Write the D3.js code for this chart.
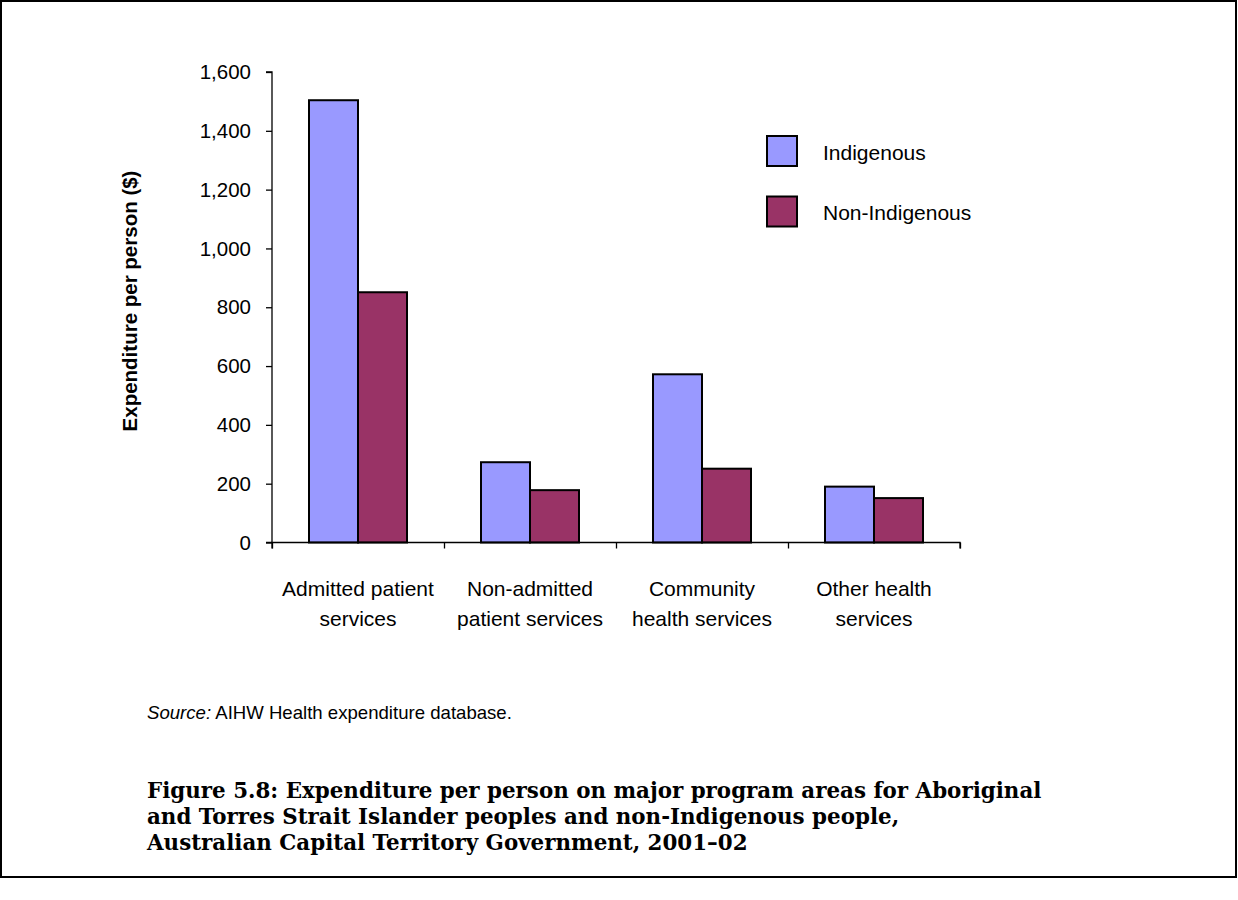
<!DOCTYPE html>
<html><head><meta charset="utf-8">
<script src="https://cdn.jsdelivr.net/npm/d3@7"></script>
<style>body{margin:0;background:#fff}svg{display:block}</style>
</head><body>
<script>
const categories = [["Admitted patient","services"],["Non-admitted","patient services"],["Community","health services"],["Other health","services"]];
const seriesNames = ["Indigenous","Non-Indigenous"];
const indigenous = [1504, 273, 572, 190];
const nonIndigenous = [851, 178, 251, 151];
const yTicks = [0,200,400,600,800,1000,1200,1400,1600];
const colors = ["#9999FF","#993366"];
const titleLines = ["Figure 5.8: Expenditure per person on major program areas for Aboriginal","and Torres Strait Islander peoples and non-Indigenous people,","Australian Capital Territory Government, 2001\u201302"];

const W=1238,H=900;
const SANS="Liberation Sans, Arial, sans-serif";
const svg=d3.select("body").append("svg").attr("width",W).attr("height",H);
svg.append("rect").attr("x",1).attr("y",1).attr("width",1235).attr("height",876).attr("fill","#fff").attr("stroke","#000").attr("stroke-width",2);

const x0=272,x1=960,yb=542.5,yt=72;
const x=d3.scaleBand().domain(d3.range(categories.length)).range([x0,x1]);
const y=d3.scaleLinear().domain([0,1600]).range([yb,yt]);
const barW=49;
const g=svg.append("g");
[indigenous,nonIndigenous].forEach((vals,si)=>{
  g.selectAll(null).data(vals).enter().append("rect")
   .attr("x",(d,i)=>x(i)+x.bandwidth()/2-barW+si*barW)
   .attr("y",d=>y(d)).attr("width",barW).attr("height",d=>yb-y(d))
   .attr("fill",colors[si]).attr("stroke","#000").attr("stroke-width",2);
});

// y axis
const ya=svg.append("g").attr("transform",`translate(${x0},0)`)
 .call(d3.axisLeft(y).tickValues(yTicks).tickSize(6).tickPadding(15).tickFormat(d3.format(",")));
ya.select(".domain").attr("stroke","#000").attr("stroke-width",1.3).attr("d",`M-6,${yt}H0V${yb}H-6`);
ya.selectAll("line").attr("stroke","#000").attr("stroke-width",1.3);
ya.selectAll("text").attr("font-family",SANS).attr("font-size",20.5).attr("fill","#000");

// x axis
const xl=d3.scaleLinear().domain([0,categories.length]).range([x0,x1]);
const xa=svg.append("g").attr("transform",`translate(0,${yb})`)
 .call(d3.axisBottom(xl).tickValues(d3.range(categories.length+1)).tickSize(6).tickFormat(""));
xa.select(".domain").attr("stroke","#000").attr("stroke-width",1.3).attr("d",`M${x0},6V0H${x1}V6`);
xa.selectAll("line").attr("stroke","#000").attr("stroke-width",1.3);

const cl=svg.append("g").attr("font-family",SANS).attr("font-size",21).attr("fill","#000").attr("text-anchor","middle");
categories.forEach((c,i)=>{
  c.forEach((t,j)=>cl.append("text").attr("x",x(i)+x.bandwidth()/2).attr("y",596+j*30).text(t));
});

svg.append("text").attr("transform",`translate(137,301) rotate(-90)`).attr("text-anchor","middle")
 .attr("font-family",SANS).attr("font-weight","bold").attr("font-size",20.5).text("Expenditure per person ($)");

// legend
seriesNames.forEach((s,i)=>{
  svg.append("rect").attr("x",767).attr("y",136+i*60.5).attr("width",30).attr("height",30).attr("fill",colors[i]).attr("stroke","#000").attr("stroke-width",2);
  svg.append("text").attr("x",823).attr("y",160+i*60).attr("font-family",SANS).attr("font-size",21).text(s);
});

const src=svg.append("text").attr("x",147).attr("y",719).attr("font-family",SANS).attr("font-size",18.6);
src.append("tspan").attr("font-style","italic").text("Source:");
src.append("tspan").text(" AIHW Health expenditure database.");

titleLines.forEach((t,i)=>svg.append("text").attr("x",147).attr("y",798+i*26).attr("font-family","DejaVu Serif, serif").attr("font-weight","bold").attr("font-size",21.4).text(t));
</script>
</body></html>
